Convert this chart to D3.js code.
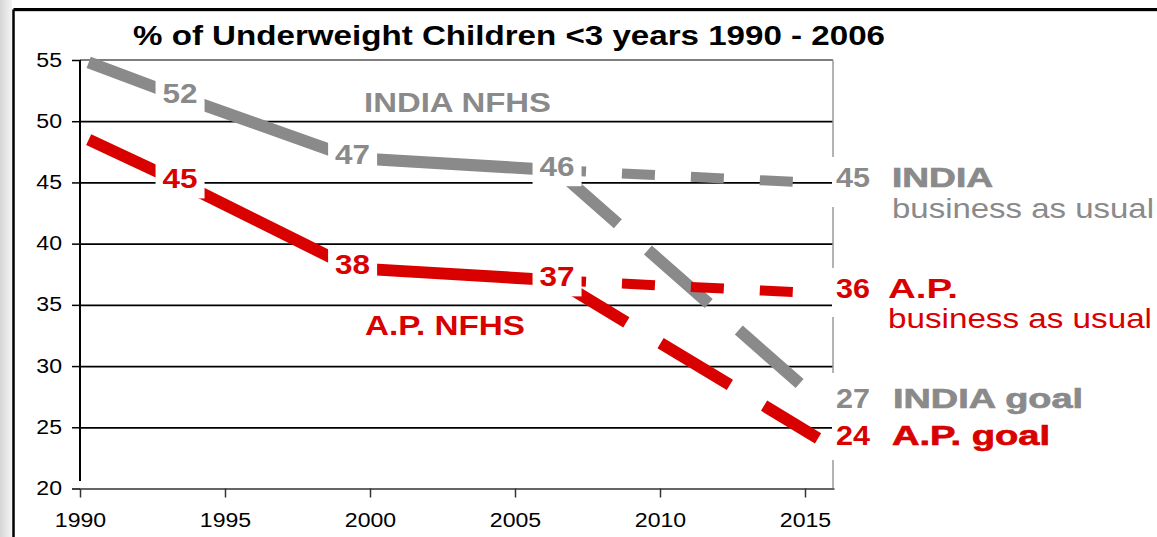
<!DOCTYPE html>
<html>
<head>
<meta charset="utf-8">
<script src="https://cdn.jsdelivr.net/npm/d3@7"></script>
<style>
body { margin: 0; background: #fff; }
svg { display: block; font-family: "Liberation Sans", Arial, Helvetica, sans-serif; }
</style>
</head>
<body>
<svg id="svg" width="1157" height="537"></svg>
<script>
var titleText = "% of Underweight Children <3 years 1990 - 2006";
var yTicks = [20, 25, 30, 35, 40, 45, 50, 55];
var gridValues = [25, 30, 35, 40, 45, 50];
var xTicks = [1990, 1995, 2000, 2005, 2010, 2015];

// NFHS survey rounds (start, NFHS-1, NFHS-2, NFHS-3)
var nfhsYears = [1990.3, 1993.45, 1999.4, 2006.45];
var indiaNfhs = [54.8, 52, 47, 46];
var apNfhs = [48.5, 45, 38, 37];

// projections
var bauYears = [2006.45, 2015];
var indiaBau = [46, 45];
var apBau = [37, 36];
var indiaGoalYears = [2006.45, 2014.9];
var indiaGoal = [46, 28.4];
var apGoalYears = [2006.45, 2015.45];
var apGoal = [37, 24.1];

// labels at the right end
var endValues = [45, 36, 27, 24];
var endNames = ["INDIA", "A.P.", "INDIA goal", "A.P. goal"];
var endSubs = ["business as usual", "business as usual", "", ""];

var GRAY = "#8a8a8a", RED = "#d90000";
var endColors = [GRAY, RED, GRAY, RED];

var plotLeft = 80, plotRight = 833, plotTop = 60, plotBottom = 488.5;

var svg = d3.select("#svg");

// page edge and frame
var defs = svg.append("defs");
var grad = defs.append("linearGradient").attr("id", "edge").attr("x1", 0).attr("x2", 1);
grad.append("stop").attr("offset", "0%").attr("stop-color", "#d6d6d6");
grad.append("stop").attr("offset", "100%").attr("stop-color", "#f4f4f4");
svg.append("rect").attr("x", 0).attr("y", 0).attr("width", 12).attr("height", 537).attr("fill", "url(#edge)");
svg.append("line").attr("x1", 13.5).attr("y1", 9.5).attr("x2", 1157).attr("y2", 9.5)
    .attr("stroke", "#000").attr("stroke-width", 3);
svg.append("line").attr("x1", 15).attr("y1", 11.5).attr("x2", 1157).attr("y2", 11.5)
    .attr("stroke", "#d0d0d0").attr("stroke-width", 1);
svg.append("line").attr("x1", 13.5).attr("y1", 9.5).attr("x2", 13.5).attr("y2", 537)
    .attr("stroke", "#000").attr("stroke-width", 2.5);

var xScale = d3.scaleLinear().domain([1990, 2016]).range([plotLeft, 834]);
var yScale = d3.scaleLinear().domain([20, 55]).range([plotBottom, plotTop]);

// gridlines
var grid = svg.append("g").attr("transform", `translate(${plotLeft},0)`)
    .call(d3.axisLeft(yScale).tickValues(gridValues).tickSize(-(plotRight - plotLeft)).tickFormat(""));
grid.select(".domain").remove();
grid.selectAll("line").attr("stroke", "#000").attr("stroke-width", 1.8);

// plot frame
svg.append("line").attr("x1", plotLeft).attr("y1", plotTop).attr("x2", plotRight).attr("y2", plotTop)
    .attr("stroke", "#555").attr("stroke-width", 1.6);
svg.append("line").attr("x1", plotRight).attr("y1", plotTop).attr("x2", plotRight).attr("y2", plotBottom)
    .attr("stroke", "#9a9a9a").attr("stroke-width", 1.5);
svg.append("line").attr("x1", plotLeft).attr("y1", plotTop).attr("x2", plotLeft).attr("y2", 481)
    .attr("stroke", "#000").attr("stroke-width", 2);

// x axis
var xAxis = svg.append("g").attr("transform", `translate(0,${plotBottom})`)
    .call(d3.axisBottom(xScale).tickValues(xTicks).tickSize(9).tickSizeOuter(0).tickFormat(d3.format("d")));
xAxis.attr("font-family", null).attr("font-size", 21);
xAxis.select(".domain").attr("stroke", "#666").attr("stroke-width", 2);
xAxis.selectAll("line").attr("stroke", "#333").attr("stroke-width", 1.5);
xAxis.selectAll("text").attr("y", 0).attr("dy", 0).attr("fill", "#000")
    .attr("transform", "translate(0,38.5) scale(1.1,1)");

// y axis
var yAxis = svg.append("g").attr("transform", `translate(${plotLeft},0)`)
    .call(d3.axisLeft(yScale).tickValues(yTicks).tickSize(8).tickSizeOuter(0));
yAxis.attr("font-family", null).attr("font-size", 21);
yAxis.select(".domain").remove();
yAxis.selectAll("line").attr("stroke", "#000").attr("stroke-width", 1.5);
yAxis.selectAll("text").attr("x", 0).attr("dy", 0).attr("fill", "#000")
    .attr("transform", "translate(-18,6) scale(1.1,1)");

// series
var line = d3.line().x(d => xScale(d[0])).y(d => yScale(d[1]));
var container = svg.append("g").attr("fill", "none").attr("stroke-linecap", "butt");

function drawLine(years, values, color, width, dash, offset) {
    var p = container.append("path")
        .attr("d", line(d3.zip(years, values)))
        .attr("stroke", color)
        .attr("stroke-width", width);
    if (dash) p.attr("stroke-dasharray", dash).attr("stroke-dashoffset", offset || 0);
}

drawLine(nfhsYears, indiaNfhs, GRAY, 12);
drawLine(nfhsYears, apNfhs, RED, 12);
drawLine(bauYears, indiaBau, GRAY, 10, "33,36", 4);
drawLine(indiaGoalYears, indiaGoal, GRAY, 12, "81,40", 0);
drawLine(bauYears, apBau, RED, 10, "33,36", 4);
drawLine(apGoalYears, apGoal, RED, 12, "81,40", 0);

// value labels on the survey points (white boxes break the lines)
function pointLabels(values, color) {
    var pts = d3.zip(nfhsYears, values).slice(1);
    var g = svg.append("g");
    g.selectAll("rect").data(pts).enter().append("rect")
        .attr("x", d => xScale(d[0]) - 24.5)
        .attr("y", d => yScale(d[1]) - 20)
        .attr("width", 49)
        .attr("height", 36)
        .attr("fill", "#fff");
    g.selectAll("text").data(pts).enter().append("text")
        .attr("x", d => xScale(d[0]) - 17.5)
        .attr("y", d => yScale(d[1]) + 6)
        .attr("font-size", 28)
        .attr("font-weight", "bold")
        .attr("fill", color)
        .attr("textLength", 35)
        .attr("lengthAdjust", "spacingAndGlyphs")
        .text(d => d[1]);
}
pointLabels(indiaNfhs, GRAY);
pointLabels(apNfhs, RED);

// series names inside the plot
svg.append("text").attr("x", 364).attr("y", 112).attr("font-size", 27).attr("font-weight", "bold")
    .attr("fill", GRAY).attr("textLength", 187).attr("lengthAdjust", "spacingAndGlyphs").text("INDIA NFHS");
svg.append("text").attr("x", 365).attr("y", 335).attr("font-size", 28).attr("font-weight", "bold")
    .attr("fill", RED).attr("textLength", 160).attr("lengthAdjust", "spacingAndGlyphs").text("A.P. NFHS");

// right end labels, on white so they break the frame
svg.append("rect").attr("x", 832).attr("y", 157).attr("width", 325).attr("height", 50).attr("fill", "#fff");
svg.append("rect").attr("x", 832).attr("y", 268).attr("width", 325).attr("height", 49).attr("fill", "#fff");
svg.append("rect").attr("x", 832).attr("y", 373).attr("width", 325).attr("height", 87).attr("fill", "#fff");

var nameX = [892, 888, 893, 892];
var nameLen = [101, 70, 190, 158];
var subX = [892, 888];
var subLen = [262, 264];
var ends = svg.append("g").attr("font-weight", "bold");
endValues.forEach(function(v, i) {
    var by = yScale(v) + 5;
    ends.append("text").attr("x", 836).attr("y", by).attr("font-size", 28).attr("fill", endColors[i])
        .attr("textLength", 34).attr("lengthAdjust", "spacingAndGlyphs").text(v);
    ends.append("text").attr("x", nameX[i]).attr("y", by).attr("font-size", 28).attr("fill", endColors[i])
        .attr("stroke", i == 1 ? "none" : endColors[i]).attr("stroke-width", 0.7)
        .attr("textLength", nameLen[i]).attr("lengthAdjust", "spacingAndGlyphs").text(endNames[i]);
    if (endSubs[i]) {
        ends.append("text").attr("x", subX[i]).attr("y", by + 30.5).attr("font-size", 28)
            .attr("font-weight", "normal").attr("fill", endColors[i])
            .attr("textLength", subLen[i]).attr("lengthAdjust", "spacingAndGlyphs").text(endSubs[i]);
    }
});

// title
svg.append("text").attr("x", 133).attr("y", 45).attr("font-size", 28).attr("font-weight", "bold")
    .attr("fill", "#000").attr("textLength", 752).attr("lengthAdjust", "spacingAndGlyphs").text(titleText);
</script>
</body>
</html>
